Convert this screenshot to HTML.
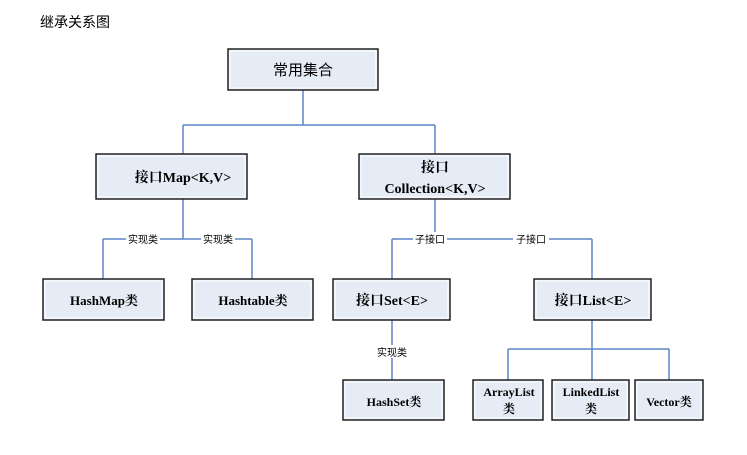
<!DOCTYPE html>
<html><head><meta charset="utf-8"><style>
html,body{margin:0;padding:0;background:#fff;}
svg{display:block;}
.b{fill:#e6ecf6;stroke:#222;stroke-width:1.5;}
.in{fill:none;stroke:#fff;stroke-width:1;}
.l{stroke:#5a86c6;stroke-width:1.5;fill:none;}
.t{font-family:"Liberation Serif","Noto Serif CJK SC",serif;font-weight:bold;font-size:14px;fill:#000;text-anchor:middle;}
.s{font-family:"Liberation Sans","Noto Sans CJK SC",sans-serif;font-size:10px;fill:#000;text-anchor:middle;}
</style></head><body>
<svg width="747" height="455" xmlns="http://www.w3.org/2000/svg">
<text x="40" y="27" style="font-family:'Liberation Sans','Noto Sans CJK SC',sans-serif;font-size:14px">继承关系图</text>
<path class="l" d="M303 90V125M183 125H435M183 125V154M435 125V154"/>
<path class="l" d="M183 199V239M103 239H252M103 239V279M252 239V279"/>
<path class="l" d="M435 199V239M392 239H592M392 239V279M592 239V279"/>
<path class="l" d="M392 320V380"/>
<path class="l" d="M592 320V380M508 349H669M508 349V380M669 349V380"/>
<rect x="126" y="232" width="34" height="13" fill="#fff"/>
<rect x="201" y="232" width="34" height="13" fill="#fff"/>
<rect x="413" y="232" width="34" height="13" fill="#fff"/>
<rect x="513" y="232" width="36" height="13" fill="#fff"/>
<rect x="374" y="345" width="36" height="13" fill="#fff"/>
<text class="s" x="143" y="243">实现类</text>
<text class="s" x="218" y="243">实现类</text>
<text class="s" x="430" y="243">子接口</text>
<text class="s" x="531" y="243">子接口</text>
<text class="s" x="392" y="356">实现类</text>
<rect class="b" x="228" y="49" width="150" height="41"/><rect class="in" x="230" y="51" width="146" height="37"/>
<text x="303" y="75" style="font-family:'Liberation Sans','Noto Sans CJK SC',sans-serif;font-size:15px;text-anchor:middle">常用集合</text>
<rect class="b" x="96" y="154" width="151" height="45"/><rect class="in" x="98" y="156" width="147" height="41"/>
<text class="t" x="183" y="182">接口Map&lt;K,V&gt;</text>
<rect class="b" x="359" y="154" width="151" height="45"/><rect class="in" x="361" y="156" width="147" height="41"/>
<text class="t" x="435" y="172">接口</text>
<text class="t" x="435" y="193">Collection&lt;K,V&gt;</text>
<rect class="b" x="43" y="279" width="121" height="41"/><rect class="in" x="45" y="281" width="117" height="37"/>
<text class="t" x="104" y="305" style="font-size:13px">HashMap类</text>
<rect class="b" x="192" y="279" width="121" height="41"/><rect class="in" x="194" y="281" width="117" height="37"/>
<text class="t" x="253" y="305" style="font-size:13px">Hashtable类</text>
<rect class="b" x="333" y="279" width="117" height="41"/><rect class="in" x="335" y="281" width="113" height="37"/>
<text class="t" x="392" y="305">接口Set&lt;E&gt;</text>
<rect class="b" x="534" y="279" width="117" height="41"/><rect class="in" x="536" y="281" width="113" height="37"/>
<text class="t" x="593" y="305">接口List&lt;E&gt;</text>
<rect class="b" x="343" y="380" width="101" height="40"/><rect class="in" x="345" y="382" width="97" height="36"/>
<text class="t" x="394" y="406" style="font-size:12px">HashSet类</text>
<rect class="b" x="473" y="380" width="70" height="40"/><rect class="in" x="475" y="382" width="66" height="36"/>
<text class="t" x="509" y="396" style="font-size:12px">ArrayList</text><text class="t" x="509" y="413" style="font-size:12px">类</text>
<rect class="b" x="552" y="380" width="77" height="40"/><rect class="in" x="554" y="382" width="73" height="36"/>
<text class="t" x="591" y="396" style="font-size:12px">LinkedList</text><text class="t" x="591" y="413" style="font-size:12px">类</text>
<rect class="b" x="635" y="380" width="68" height="40"/><rect class="in" x="637" y="382" width="64" height="36"/>
<text class="t" x="669" y="406" style="font-size:12px">Vector类</text>
</svg>
</body></html>
